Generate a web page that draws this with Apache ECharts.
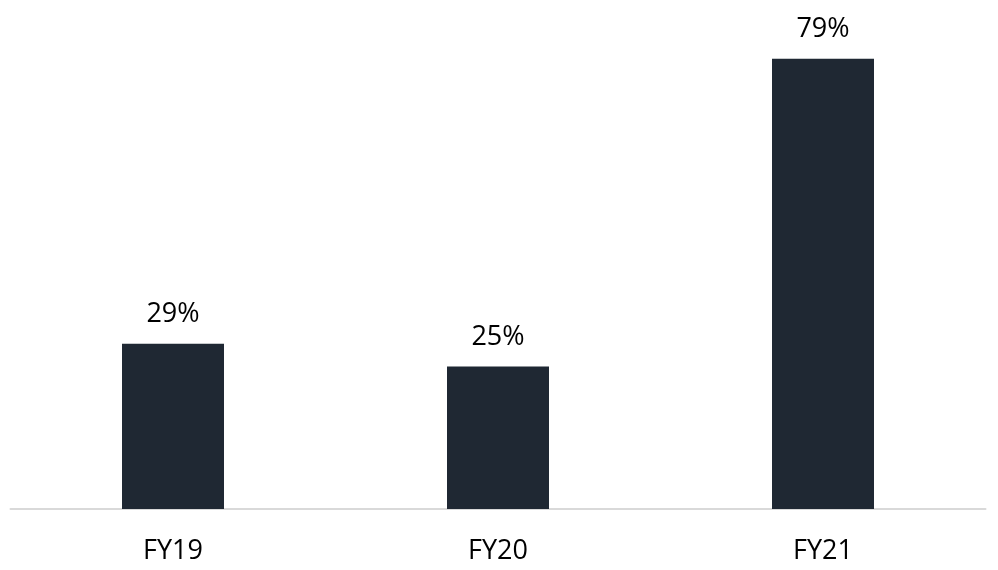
<!DOCTYPE html>
<html>
<head>
<meta charset="utf-8">
<script src="https://cdn.jsdelivr.net/npm/echarts@6/dist/echarts.min.js"></script>
<style>html,body{margin:0;padding:0;background:#fff;}#c{width:998px;height:570px;}</style>
</head>
<body>
<div id="c"></div>
<script>
var categories = ['FY19', 'FY20', 'FY21'];
var values = [29, 25, 79];

var chart = echarts.init(document.getElementById('c'), null, {renderer: 'canvas'});
chart.setOption({
  animation: false,
  backgroundColor: '#ffffff',
  grid: {left: 10.5, right: 12.5, top: 53, bottom: 61, containLabel: false},
  xAxis: {
    type: 'category',
    data: categories,
    axisLine: {show: true, lineStyle: {color: '#d9d9d9', width: 2}},
    axisTick: {show: false},
    axisLabel: {color: '#000000', fontFamily: 'Open Sans', fontSize: 27, margin: 29}
  },
  yAxis: {
    type: 'value',
    min: 0,
    max: 80,
    show: false,
    splitLine: {show: false}
  },
  series: [{
    type: 'bar',
    data: values,
    barWidth: 102,
    itemStyle: {color: '#1f2833'},
    label: {
      show: true,
      position: 'top',
      distance: 16,
      formatter: '{c}%',
      color: '#000000',
      fontFamily: 'Open Sans',
      fontSize: 27
    }
  }]
});
</script>
</body>
</html>
